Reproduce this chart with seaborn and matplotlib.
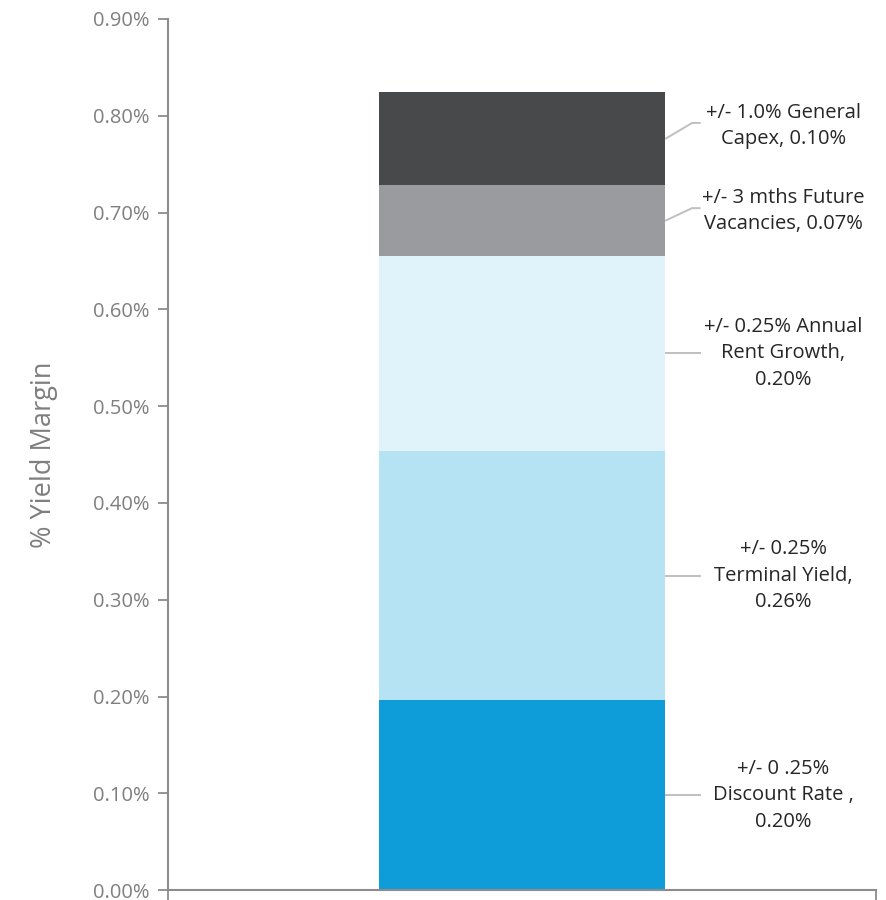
import matplotlib
matplotlib.use("Agg")
import matplotlib.pyplot as plt
import seaborn as sns
import numpy as np

# Data (values in % yield margin)
segments = ["Discount Rate", "Terminal Yield", "Annual Rent Growth", "Future Vacancies", "General Capex"]
values = [0.196, 0.258, 0.201, 0.073, 0.096]
labels = [
    "+/- 0 .25%\nDiscount Rate ,\n0.20%",
    "+/- 0.25%\nTerminal Yield,\n0.26%",
    "+/- 0.25% Annual\nRent Growth,\n0.20%",
    "+/- 3 mths Future\nVacancies, 0.07%",
    "+/- 1.0% General\nCapex, 0.10%",
]
colors = ["#0E9DD9", "#B6E3F4", "#E0F2FA", "#9A9B9F", "#48494B"]
yticks = [0.0, 0.1, 0.2, 0.3, 0.4, 0.5, 0.6, 0.7, 0.8, 0.9]
ytick_labels = [f"{t:.2f}%" for t in yticks]

sns.set_style("white")
plt.rcParams["font.family"] = ["Open Sans", "DejaVu Sans"]

fig = plt.figure(figsize=(8.87, 9.0), dpi=100)
ax = fig.add_axes([0.189, 0.011, 0.799, 0.968])

bar_w = 0.404
cum = 0.0
bottoms = []
for seg, v, c in zip(segments, values, colors):
    sns.barplot(x=[0], y=[v], bottom=cum, color=c, width=bar_w, ax=ax,
                saturation=1, linewidth=0, native_scale=True)
    bottoms.append(cum)
    cum += v

ax.set_xlim(-0.5, 0.5)
ax.set_ylim(0, 0.9)
ax.set_yticks(yticks)
ax.set_yticklabels(ytick_labels, color="#7F7F7F", fontsize=14.5)
ax.set_xticks([-0.5, 0.5])
ax.set_xticklabels(["", ""])
ax.set_xlabel("")
ax.set_ylabel("% Yield Margin", color="#7F7F7F", fontsize=19.5)
ax.yaxis.set_label_coords(-0.155, 0.5)
ax.tick_params(axis="y", left=True, direction="out", length=7, width=1.3,
               color="#8C8C8C", pad=6)
ax.tick_params(axis="x", bottom=True, direction="out", length=7, width=1.3,
               color="#8C8C8C")
for s in ["top", "right"]:
    ax.spines[s].set_visible(False)
for s in ["left", "bottom"]:
    ax.spines[s].set_color("#8C8C8C")
    ax.spines[s].set_linewidth(1.5)

# Labels with kinked leader lines
text_shift = [0.0, 0.0, 0.0, 0.010, 0.0135]   # label centre relative to segment middle
text_x = 0.369
elbow_x = 0.24
end_x = 0.252
for b, v, lab, sh in zip(bottoms, values, labels, text_shift):
    mid = b + v / 2
    ty = mid + sh
    ax.text(text_x, ty, lab, ha="center", va="center", fontsize=14.5,
            color="#262626", linespacing=1.42)
    ly = ty + (0.003 if sh > 0 else 0.0)
    ax.plot([bar_w / 2, elbow_x, end_x], [mid, ly, ly], color="#BFBFBF",
            lw=1.4, solid_capstyle="butt", clip_on=False)

fig.savefig("out.png", dpi=100)
